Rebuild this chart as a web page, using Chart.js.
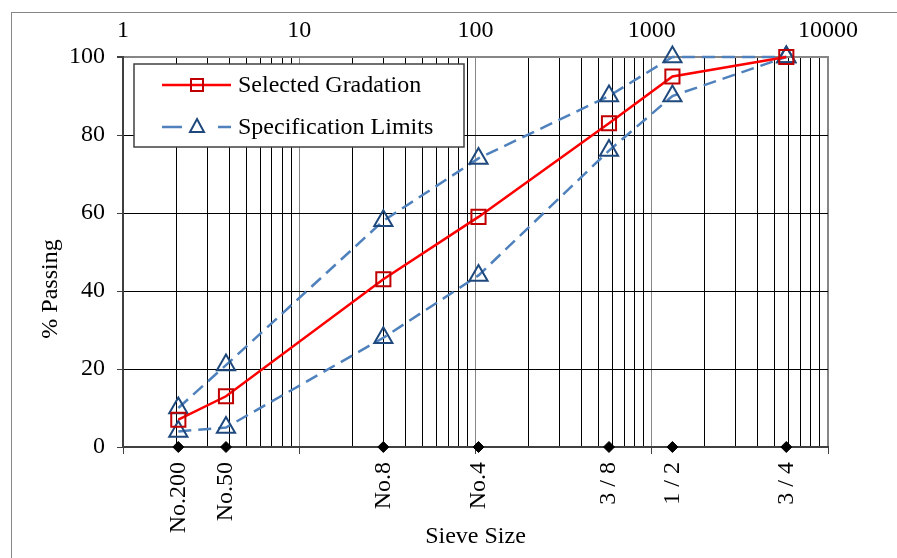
<!DOCTYPE html>
<html>
<head>
<meta charset="utf-8">
<script src="https://cdn.jsdelivr.net/npm/chart.js@4/dist/chart.umd.min.js"></script>
<style>
  html, body { margin: 0; padding: 0; background: #fff; }
  #wrap { width: 897px; height: 558px; }
</style>
</head>
<body>
<div id="wrap"><canvas id="chart"></canvas></div>
<script>
// sieve positions on the log axis and their labels
const sieveLabels = ['No.200', 'No.50', 'No.8', 'No.4', '3 / 8', '1 / 2', '3 / 4'];
const sieveX = [2.06, 3.84, 30, 104, 572, 1310, 5800];

// % passing
const selected = [7, 13, 43, 59, 83, 95, 100];
const upperLimit = [10, 21, 58, 74, 90, 100, 100];
const lowerLimit = [4, 5, 28, 44, 76, 90, 100];

// tick labels
const decadeTicks = [1, 10, 100, 1000, 10000];
const yTicks = [0, 20, 40, 60, 80, 100];

const FONT = 'Liberation Serif, Times New Roman, serif';
const font = { family: FONT, size: 24 };

// vertical grid: 1..9 in each decade
const gridTicks = [];
for (let k = 0; k < decadeTicks.length - 1; k++) {
  for (let m = 1; m < 10; m++) gridTicks.push(m * decadeTicks[k]);
}
gridTicks.push(decadeTicks[decadeTicks.length - 1]);

// bottom axis: small marks at decades, labels at sieves
const bottomTicks = decadeTicks.concat(sieveX);
const bottomLabels = decadeTicks.map(() => '').concat(sieveLabels);

const pts = arr => sieveX.map((x, i) => ({ x: x, y: arr[i] }));

const framePlugin = {
  id: 'frame',
  beforeDraw(chart) {
    const c = chart.ctx;
    c.save();
    c.fillStyle = '#fff';
    c.fillRect(0, 0, chart.width, chart.height);
    c.strokeStyle = '#868686';
    c.lineWidth = 1;
    c.strokeRect(11.5, 12.5, 1000, 1000);
    c.restore();
  },
  afterDraw(chart) {
    const c = chart.ctx;
    c.save();
    // y axis title
    c.fillStyle = '#000';
    c.font = '24px ' + FONT;
    c.textAlign = 'center';
    c.textBaseline = 'middle';
    c.translate(51, 289);
    c.rotate(-Math.PI / 2);
    c.fillText('% Passing', 0, 0);
    c.restore();

    // legend
    c.save();
    c.fillStyle = '#fff';
    c.fillRect(134, 64, 330, 83);
    c.strokeStyle = '#404040';
    c.lineWidth = 1.5;
    c.strokeRect(134, 64, 330, 83);

    let y = 85;
    c.strokeStyle = '#ff0000';
    c.lineWidth = 2.5;
    c.beginPath(); c.moveTo(162, y); c.lineTo(231, y); c.stroke();
    c.strokeStyle = '#c00000';
    c.lineWidth = 2;
    c.strokeRect(191, y - 6, 12, 12);

    y = 127;
    c.strokeStyle = '#4f81bd';
    c.lineWidth = 2.5;
    c.beginPath(); c.moveTo(162, y); c.lineTo(182, y); c.moveTo(218, y); c.lineTo(231, y); c.stroke();
    c.strokeStyle = '#1f497d';
    c.lineWidth = 2;
    c.beginPath();
    c.moveTo(197, y - 8); c.lineTo(204, y + 5); c.lineTo(190, y + 5); c.closePath();
    c.stroke();

    c.fillStyle = '#000';
    c.font = '24px ' + FONT;
    c.textAlign = 'left';
    c.textBaseline = 'middle';
    c.fillText('Selected Gradation', 238, 86);
    c.fillText('Specification Limits', 238, 128);
    c.restore();
  }
};

new Chart(document.getElementById('chart'), {
  type: 'line',
  data: {
    datasets: [
      {
        label: 'sieves', data: sieveX.map(x => ({ x: x, y: 0 })), showLine: false,
        pointStyle: 'rectRot', pointRadius: 5.5, pointBackgroundColor: '#000', pointBorderColor: '#000',
        pointBorderWidth: 1, clip: false
      },
      {
        label: 'Selected Gradation', data: pts(selected),
        borderColor: '#ff0000', borderWidth: 2.5,
        pointStyle: 'rect', pointRadius: 10, pointBorderColor: '#c00000', pointBorderWidth: 2,
        pointBackgroundColor: 'rgba(0,0,0,0)', clip: false
      },
      {
        label: 'Specification Limits', data: pts(upperLimit),
        borderColor: '#4f81bd', borderWidth: 2.5, borderDash: [13, 7],
        pointStyle: 'triangle', pointRadius: 10.5, pointBorderColor: '#1f497d', pointBorderWidth: 2,
        pointBackgroundColor: 'rgba(0,0,0,0)', clip: false
      },
      {
        label: 'Specification Limits (lower)', data: pts(lowerLimit),
        borderColor: '#4f81bd', borderWidth: 2.5, borderDash: [13, 7],
        pointStyle: 'triangle', pointRadius: 10.5, pointBorderColor: '#1f497d', pointBorderWidth: 2,
        pointBackgroundColor: 'rgba(0,0,0,0)', clip: false
      }
    ]
  },
  options: {
    responsive: true,
    maintainAspectRatio: false,
    animation: false,
    layout: { padding: { left: 0, right: 69, top: 0, bottom: 0 } },
    plugins: { legend: { display: false }, tooltip: { enabled: false } },
    scales: {
      x: {
        type: 'logarithmic', position: 'bottom', min: 1, max: 10000,
        afterBuildTicks: s => { s.ticks = bottomTicks.map(v => ({ value: v })); },
        afterFit: s => { s.height = 111; },
        ticks: {
          autoSkip: false, maxRotation: 90, minRotation: 90, padding: 8, color: '#000', font: font,
          callback: (v, i) => bottomLabels[i]
        },
        grid: {
          drawOnChartArea: false, drawTicks: true, tickLength: 7, tickWidth: 1,
          tickColor: ctx => (ctx.tick && decadeTicks.includes(ctx.tick.value)) ? '#404040' : 'rgba(0,0,0,0)'
        },
        border: { color: '#404040', width: 2 },
        title: { display: true, text: 'Sieve Size', color: '#000', font: font, padding: { top: 0, bottom: 7 } }
      },
      x2: {
        type: 'logarithmic', position: 'top', min: 1, max: 10000,
        afterBuildTicks: s => { s.ticks = gridTicks.map(v => ({ value: v })); },
        afterFit: s => { s.height = 57; },
        ticks: {
          autoSkip: false, maxRotation: 0, padding: 12, color: '#000', font: font,
          callback: v => decadeTicks.includes(v) ? String(v) : ''
        },
        grid: {
          drawTicks: false,
          color: ctx => (ctx.tick && decadeTicks.includes(ctx.tick.value)) ? '#868686' : '#000',
          lineWidth: ctx => (ctx.tick && ctx.tick.value === 10000) ? 2 : 1
        },
        border: { color: '#868686', width: 2 }
      },
      y: {
        min: 0, max: 100,
        afterBuildTicks: s => { s.ticks = yTicks.map(v => ({ value: v })); },
        afterFit: s => { s.width = 123; },
        ticks: { padding: 12, color: '#000', font: font },
        grid: {
          tickLength: 6, tickColor: '#404040',
          color: ctx => {
            const v = ctx.tick ? ctx.tick.value : null;
            if (v === 100) return '#868686';
            if (v === 0) return 'rgba(0,0,0,0)';
            return '#000';
          },
          lineWidth: ctx => (ctx.tick && ctx.tick.value === 100) ? 2 : 1
        },
        border: { color: '#404040', width: 2 }
      }
    }
  },
  plugins: [framePlugin]
});
</script>
</body>
</html>
